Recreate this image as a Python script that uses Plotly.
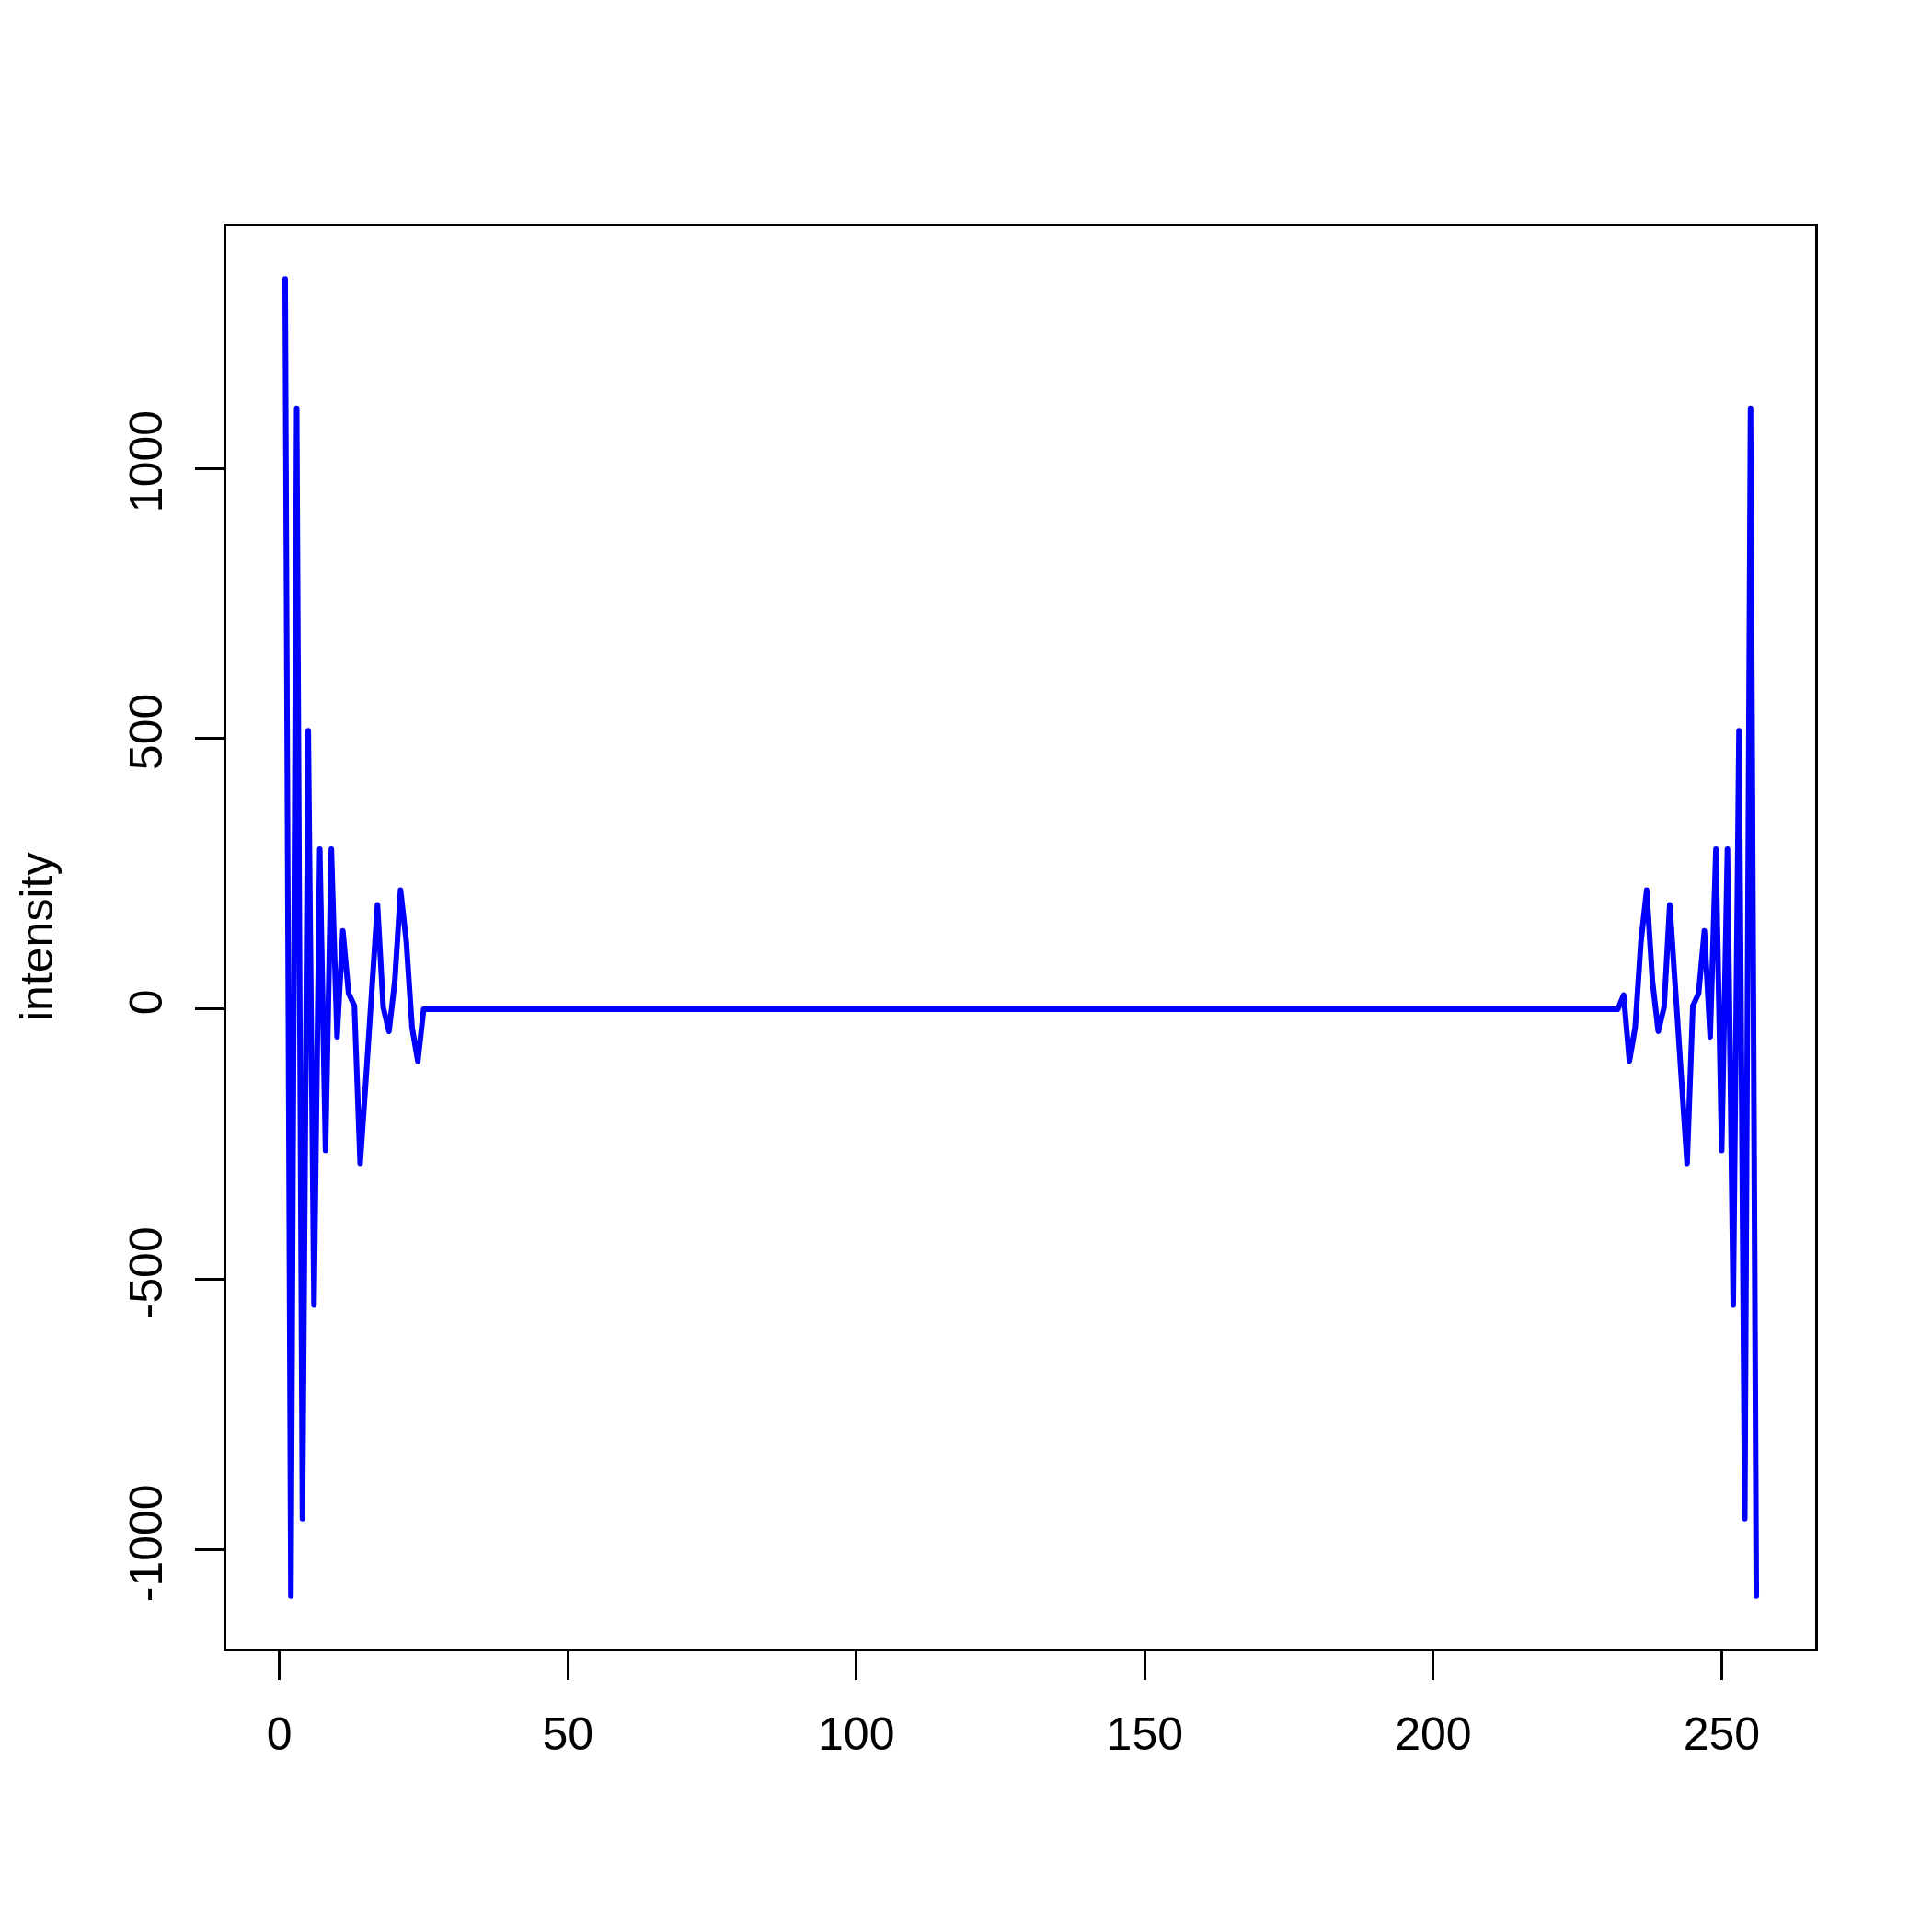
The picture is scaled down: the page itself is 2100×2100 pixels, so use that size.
import plotly.graph_objects as go

# values
head_values = [1350, -1085, 1111, -942, 515, -547, 296, -261, 296, -51,
               145, 29, 6, -285, -130, 40, 193, 3, -41, 51,
               220, 125, -34, -96, 0]                      # index 1..25
middle_zero_count = 207                                     # index 26..232 (flat at 0)
tail_values = [26, -96, -34, 125, 220, 51, -41, 3, 193, 40,
               -130, -285, 6, 29, 145, -51, 296, -261, 296, -547,
               515, -942, 1111, -1085]                      # index 233..256

intensity = head_values + [0] * middle_zero_count + tail_values
index = list(range(1, len(intensity) + 1))

x_ticks = [0, 50, 100, 150, 200, 250]
y_ticks = [-1000, -500, 0, 500, 1000]
y_tick_text = ["-1000", "-500", "0", "500", "1000"]

FONT = "Liberation Sans, Arial, Helvetica, sans-serif"

fig = go.Figure()
fig.add_trace(go.Scatter(x=index, y=intensity, mode="lines",
                         line=dict(color="#0000FF", width=6),
                         showlegend=False, hoverinfo="skip"))

n = len(intensity)
ymin, ymax = min(intensity), max(intensity)
xpad = (n - 1) * 0.04
ypad = (ymax - ymin) * 0.04

axis_common = dict(showline=True, linecolor="black", linewidth=2.5, mirror=True,
                   ticks="outside", ticklen=31, tickwidth=2.5, tickcolor="black",
                   showgrid=False, zeroline=False,
                   tickfont=dict(family=FONT, size=50, color="black"))

# page body has an 8px default margin; compensate so the plot box sits at 246..1973 / 246..1792
fig.update_layout(
    width=2100, height=2100, autosize=False,
    margin=dict(l=238, r=135, t=238, b=316),
    paper_bgcolor="white", plot_bgcolor="white",
    xaxis=dict(range=[1 - xpad, n + xpad], tickvals=x_ticks,
               ticklabelstandoff=16, **axis_common),
    yaxis=dict(range=[ymin - ypad, ymax + ypad], tickvals=y_ticks, ticktext=y_tick_text,
               tickangle=-90, ticklabelstandoff=16, **axis_common),
    annotations=[dict(text="intensity", xref="paper", yref="paper",
                      x=(40 - 246) / 1727, y=0.5, xanchor="center", yanchor="middle",
                      textangle=-90, showarrow=False,
                      font=dict(family=FONT, size=50, color="black"))],
)

post = """
document.querySelectorAll('.js-line').forEach(function(p){
  p.style.strokeLinejoin = 'round';
  p.style.strokeLinecap = 'round';
});
"""
fig.write_html("out.html", post_script=post)
